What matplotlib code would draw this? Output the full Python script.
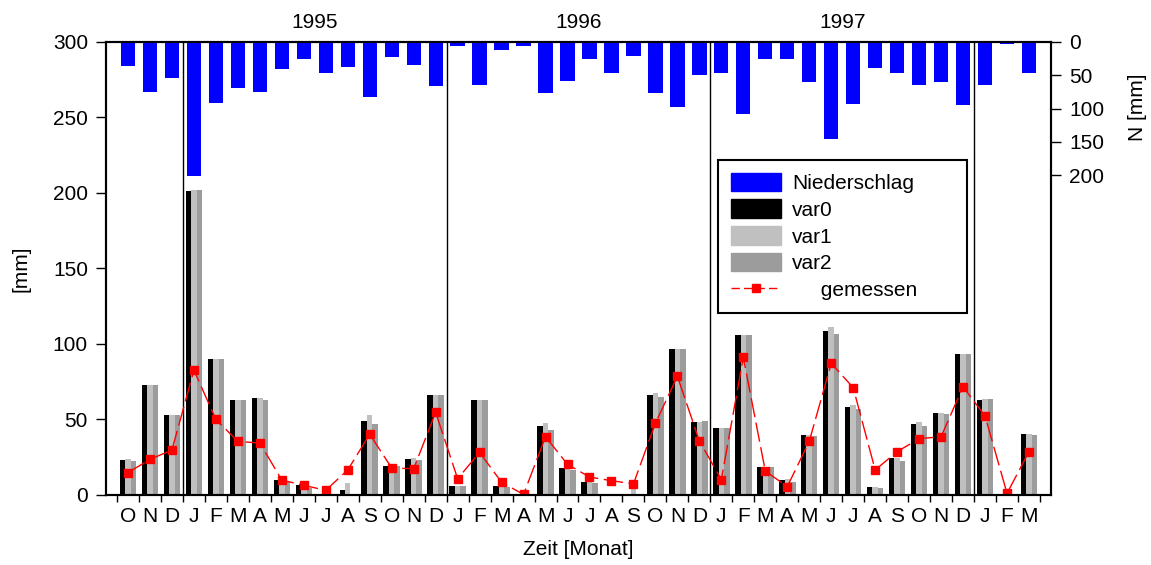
import matplotlib
matplotlib.use("Agg")
import matplotlib.pyplot as plt
from matplotlib.patches import Patch
from matplotlib.lines import Line2D
import numpy as np

plt.rcParams['font.family'] = ['Liberation Sans', 'DejaVu Sans']

month_labels = ['O', 'N', 'D',
                'J', 'F', 'M', 'A', 'M', 'J', 'J', 'A', 'S', 'O', 'N', 'D',
                'J', 'F', 'M', 'A', 'M', 'J', 'J', 'A', 'S', 'O', 'N', 'D',
                'J', 'F', 'M', 'A', 'M', 'J', 'J', 'A', 'S', 'O', 'N', 'D',
                'J', 'F', 'M']
year_labels = ['1995', '1996', '1997']

var0 = [23, 73, 53, 201, 90, 63, 64, 10, 6.5, 0, 3.5, 49, 19, 24, 66,
        6, 63, 6, 0, 46, 18, 8.5, 0, 0, 66, 97, 48.5,
        44.5, 106, 18.5, 10, 40, 108.5, 58.5, 5, 24.5, 47, 54, 93.5,
        63, 0, 40.5]
var1 = [24, 73, 53, 202, 90, 63, 64, 9.3, 5.5, 0, 8, 53, 19, 24.5, 66,
        6, 63, 5.5, 0, 47.5, 17, 8.5, 0, 4, 67.5, 97, 48.5,
        44.5, 106, 18.5, 10.5, 39.5, 111, 59.5, 5, 24.5, 48.5, 54, 93.5,
        63.5, 0, 40.5]
var2 = [22.7, 73, 53, 202, 90, 63, 63, 8.4, 4.9, 0, 0.7, 46.8, 19, 23.2, 66,
        6, 63, 5.5, 0, 43.3, 16.6, 7.9, 0, 0, 65, 96.5, 49,
        44.5, 105.7, 18.3, 8.6, 39, 106.4, 57, 4.6, 22.3, 45.7, 53.6, 93.4,
        63.4, 0, 40]
gemessen = [14.8, 23.6, 29.8, 82.6, 50.1, 35.5, 34.4, 9.9, 6.4, 3.1, 16.6, 40.2, 17.9, 17.4, 54.7,
            10.8, 28.2, 8.4, 0.4, 38.6, 20.3, 11.9, 9.5, 7.3, 47.5, 78.6, 35.8,
            10.2, 91.2, 15.9, 5.5, 35.5, 87.2, 71.1, 16.6, 28.7, 37.3, 38.6, 71.7,
            52.3, 1.1, 28.7]
niederschlag = [36.6, 75, 54, 202, 91, 69, 75, 40, 26, 46, 37, 82, 22, 34, 66,
                6, 65, 12.5, 6, 77, 59, 25, 46, 21, 77, 97, 49,
                47, 108, 26, 25, 60, 146, 93, 39, 47, 65, 60, 94,
                64, 3.5, 46]

x = np.arange(len(month_labels))
FS = 15

fig = plt.figure(figsize=(11.51, 5.65), dpi=100)
ax = fig.add_axes([0.0921, 0.1239, 0.8210, 0.8018])

bw = 0.25
ax.bar(x - bw, var0, width=bw, color='black', zorder=2)
ax.bar(x, var1, width=bw, color='#c0c0c0', zorder=2)
ax.bar(x + bw, var2, width=bw, color='#9c9c9c', zorder=2)
ax.plot(x, gemessen, color='red', lw=1.0, dashes=(14, 4), marker='s',
        markersize=5.5, zorder=4)

for b in [2.5, 14.5, 26.5, 38.5]:
    ax.axvline(b, color='black', lw=1.0, zorder=3)

ax.set_xlim(-1, 42)
ax.set_ylim(0, 300)
ax.set_yticks(np.arange(0, 301, 50))
ax.set_xticks(np.arange(-0.5, 42, 1.0))
ax.set_xticklabels([])
ax.set_xticks(x, minor=True)
ax.set_xticklabels(month_labels, minor=True)
ax.tick_params(axis='x', which='major', direction='out', length=5, width=1)
ax.tick_params(axis='x', which='minor', length=0, pad=9, labelsize=FS)
ax.tick_params(axis='y', direction='out', length=7, width=1, pad=6, labelsize=FS)
for s in ax.spines.values():
    s.set_linewidth(1.5)

ax.set_ylabel('[mm]', fontsize=FS, labelpad=16)
ax.set_xlabel('Zeit [Monat]', fontsize=FS, labelpad=10)

for i, yl in enumerate(year_labels):
    ax.text(8.5 + 12 * i, 1.044, yl, transform=ax.get_xaxis_transform(),
            ha='center', va='center', fontsize=FS)

ax2 = ax.twinx()
ax2.bar(x, niederschlag, width=0.65, color='#0000ff', zorder=2)
ax2.set_ylim(681, 0)
ax2.set_yticks(np.arange(0, 201, 50))
ax2.tick_params(axis='y', direction='out', length=7, width=1, pad=6, labelsize=FS)
ax2.set_ylabel('N [mm]', fontsize=FS)
ax2.yaxis.set_label_coords(1.081, 0.855)
ax2.set_xlim(-1, 42)
for s in ax2.spines.values():
    s.set_linewidth(1.5)

handles = [Patch(color='#0000ff'), Patch(color='black'), Patch(color='#c0c0c0'),
           Patch(color='#9c9c9c'),
           Line2D([], [], color='red', lw=1.0, dashes=(6, 3), marker='s', markersize=5.5)]
labels = ['Niederschlag', 'var0', 'var1', 'var2', '     gemessen']
leg = ax2.legend(handles, labels, loc='upper left',
                 bbox_to_anchor=(0.648, 0.413, 0.263, 0.326), mode='expand',
                 borderaxespad=0, fontsize=FS, frameon=True, fancybox=False,
                 framealpha=1, edgecolor='black', handlelength=2.4,
                 handleheight=1.0, handletextpad=0.55, labelspacing=0.3,
                 borderpad=0.6)
leg.get_frame().set_linewidth(1.5)

fig.savefig('out.png', dpi=100)
